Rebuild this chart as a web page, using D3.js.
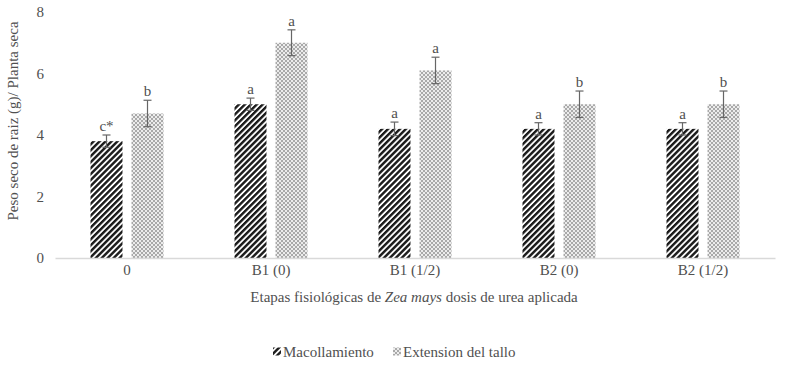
<!DOCTYPE html>
<html>
<head>
<meta charset="utf-8">
<script src="https://cdn.jsdelivr.net/npm/d3@7"></script>
<style>
  body { margin: 0; background: #fff; }
  svg text { font-family: "Liberation Serif", "Times New Roman", serif; fill: #505050; }
</style>
</head>
<body>
<svg width="787" height="383"></svg>
<script>
const categories = ["0", "B1 (0)", "B1 (1/2)", "B2 (0)", "B2 (1/2)"];
const seriesNames = ["Macollamiento", "Extension del tallo"];
const macollamiento = [3.8, 5.0, 4.2, 4.2, 4.2];
const extension = [4.7, 7.0, 6.1, 5.0, 5.0];
const macollErr = [0.2, 0.2, 0.22, 0.2, 0.2];
const extErr = [0.43, 0.42, 0.43, 0.43, 0.43];
const macollLetters = ["c*", "a", "a", "a", "a"];
const extLetters = ["b", "a", "a", "b", "b"];
const yTicks = [0, 2, 4, 6, 8];

const margin = {top: 12, right: 12, bottom: 125, left: 55};
const [width, height] = [787, 383];
const plotW = width - margin.left - margin.right;
const plotH = height - margin.top - margin.bottom;
const fs = 15;

const svg = d3.select("svg");

// patterns
const defs = svg.append("defs");
const stripe = defs.append("pattern")
  .attr("id", "stripe")
  .attr("patternUnits", "userSpaceOnUse")
  .attr("width", 4.2).attr("height", 4.2)
  .attr("patternTransform", "rotate(45)");
stripe.append("rect").attr("width", 4.2).attr("height", 4.2).attr("fill", "#fff");
stripe.append("rect").attr("width", 2.4).attr("height", 4.2).attr("fill", "#1a1a1a");

const dots = defs.append("pattern")
  .attr("id", "dots")
  .attr("patternUnits", "userSpaceOnUse")
  .attr("width", 4).attr("height", 4);
dots.append("rect").attr("width", 4).attr("height", 4).attr("fill", "#a9a9a9");
dots.append("rect").attr("x", 0).attr("y", 0).attr("width", 2).attr("height", 2).attr("fill", "#ececec");
dots.append("rect").attr("x", 2).attr("y", 2).attr("width", 2).attr("height", 2).attr("fill", "#ececec");

const fills = ["url(#stripe)", "url(#dots)"];

const x0 = d3.scaleBand().domain(categories).range([0, plotW]).paddingInner(0).paddingOuter(0);
const x1 = d3.scaleBand().domain(seriesNames)
  .range([x0.bandwidth() / 2 - 36.5, x0.bandwidth() / 2 + 36.5]).paddingInner(0.22);
const y = d3.scaleLinear().domain([0, 8]).range([plotH, 0]);

const g = svg.append("g").attr("transform", `translate(${[margin.left, margin.top]})`);

// y axis labels (no line)
const yAxis = d3.axisLeft(y).tickValues(yTicks).tickSize(0).tickPadding(11);
g.append("g").call(yAxis)
  .call(s => s.select(".domain").remove())
  .call(s => s.selectAll("text").attr("font-size", fs));

const rows = categories.map((c, i) => ({
  cat: c,
  vals: [
    {s: seriesNames[0], v: macollamiento[i], e: macollErr[i], l: macollLetters[i]},
    {s: seriesNames[1], v: extension[i], e: extErr[i], l: extLetters[i]}
  ]
}));

const grp = g.selectAll("g.grp").data(rows).enter().append("g")
  .attr("class", "grp")
  .attr("transform", d => `translate(${x0(d.cat)},0)`);

grp.selectAll("rect").data(d => d.vals).enter().append("rect")
  .attr("x", d => x1(d.s))
  .attr("width", x1.bandwidth())
  .attr("y", d => y(d.v))
  .attr("height", d => y(0) - y(d.v))
  .attr("fill", (d, i) => fills[i]);

// error bars
const eb = grp.selectAll("g.err").data(d => d.vals).enter().append("g").attr("class", "err");
eb.append("line")
  .attr("x1", d => x1(d.s) + x1.bandwidth() / 2)
  .attr("x2", d => x1(d.s) + x1.bandwidth() / 2)
  .attr("y1", d => y(d.v - d.e))
  .attr("y2", d => y(d.v + d.e))
  .attr("stroke", "#666").attr("stroke-width", 1.2);
eb.selectAll("line.cap").data(d => [{d, t: d.v + d.e}, {d, t: d.v - d.e}]).enter().append("line")
  .attr("class", "cap")
  .attr("x1", o => x1(o.d.s) + x1.bandwidth() / 2 - 4)
  .attr("x2", o => x1(o.d.s) + x1.bandwidth() / 2 + 4)
  .attr("y1", o => y(o.t))
  .attr("y2", o => y(o.t))
  .attr("stroke", "#666").attr("stroke-width", 1.2);

// letters
grp.selectAll("text.let").data(d => d.vals).enter().append("text")
  .attr("class", "let")
  .attr("x", d => x1(d.s) + x1.bandwidth() / 2)
  .attr("y", d => y(d.v + d.e) - 4)
  .attr("text-anchor", "middle")
  .attr("font-size", fs)
  .text(d => d.l);

// x axis
const xAxis = d3.axisBottom(x0).tickSize(0).tickPadding(6);
g.append("g").attr("transform", `translate(0,${plotH})`).call(xAxis)
  .call(s => s.select(".domain").attr("stroke", "#d9d9d9").attr("stroke-width", 1.3))
  .call(s => s.selectAll("text").attr("font-size", fs));

// axis titles
svg.append("text")
  .attr("transform", "translate(18,121) rotate(-90)")
  .attr("text-anchor", "middle")
  .attr("font-size", fs)
  .text("Peso seco de raiz (g)/ Planta seca");

const xt = svg.append("text")
  .attr("x", 414)
  .attr("y", 302)
  .attr("text-anchor", "middle")
  .attr("font-size", fs);
xt.append("tspan").text("Etapas fisiológicas de ");
xt.append("tspan").attr("font-style", "italic").text("Zea mays");
xt.append("tspan").text(" dosis de urea aplicada");

// legend
const legend = svg.append("g").attr("transform", "translate(273,352)");
const items = legend.selectAll("g").data(seriesNames).enter().append("g")
  .attr("transform", (d, i) => `translate(${i === 0 ? 0 : 120},0)`);
items.append("rect").attr("x", 0).attr("y", -4.5).attr("width", 8).attr("height", 8)
  .attr("fill", (d, i) => fills[i]);
items.append("text").attr("x", 10).attr("y", 0).attr("dy", "0.35em")
  .attr("font-size", fs).text(d => d);
</script>
</body>
</html>
